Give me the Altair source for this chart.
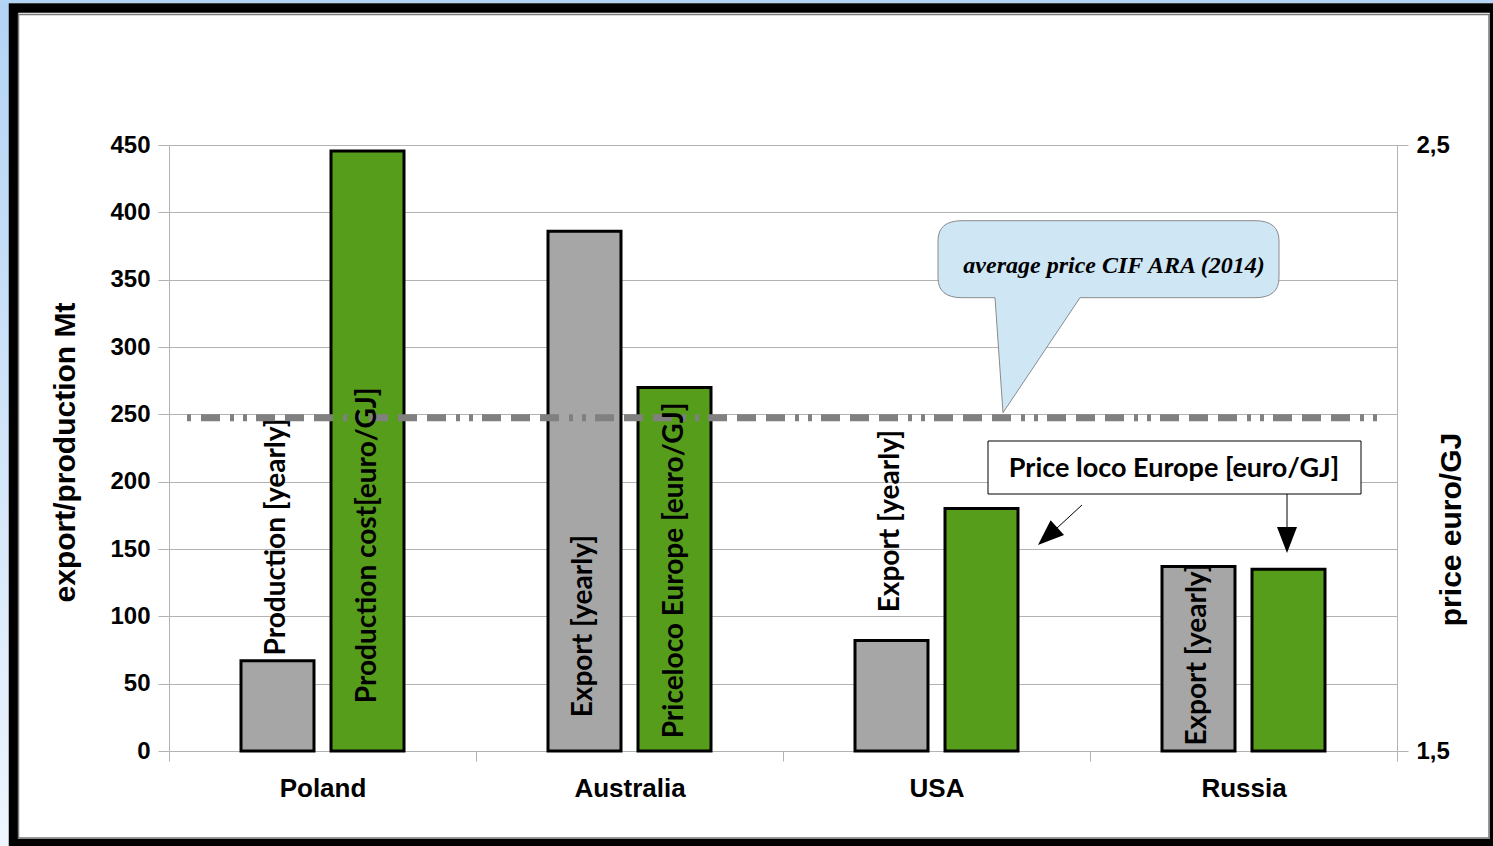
import altair as alt
import pandas as pd

# ---------------- data ----------------
countries = ["Poland", "Australia", "USA", "Russia"]
volume_mt = [67, 386, 82, 137]                 # export / production [Mt]
price_eur_gj = [2.49, 2.10, 1.90, 1.80]        # production cost / price loco Europe [euro/GJ]
volume_labels = ["Production [yearly]", "Export [yearly]", "Export [yearly]", "Export [yearly]"]
price_labels = ["Production cost[euro/GJ]", "Priceloco Europe [euro/GJ]", "", ""]
volume_label_at = [71, 25, 103, 4]             # where each rotated label starts (Mt)
price_label_at = [1.579, 1.521, 1.5, 1.5]      # where each rotated label starts (euro/GJ)
avg_price_cif_ara = 2.05
price_axis_min = 1.5
left_ticks = [0, 50, 100, 150, 200, 250, 300, 350, 400, 450]
right_ticks = [1.5, 2.5]
series_order = ["volume", "price"]

vol_df = pd.DataFrame({"country": countries, "series": "volume", "value": volume_mt,
                       "label": volume_labels, "label_at": volume_label_at})
price_df = pd.DataFrame({"country": countries, "series": "price", "value": price_eur_gj,
                         "base": price_axis_min, "label": price_labels,
                         "label_at": price_label_at})
price_lab_df = price_df[price_df["label"] != ""]
avg_df = pd.DataFrame({"p": [avg_price_cif_ara]})
one = pd.DataFrame({"k": [0]})

W, H = 1228, 606
GRID = "#b3b3b3"
AXFONT = "Liberation Sans"
LBLFONT = "Lato"

# ---------------- shared encodings ----------------
x_axis = alt.Axis(title=None, labelAngle=0, tickBand="extent", tickSize=10, tickColor=GRID,
                  domainColor=GRID, labelFont=AXFONT, labelFontWeight="bold", labelFontSize=26,
                  labelColor="black", labelPadding=14, grid=False)
X = alt.X("country:N", sort=countries, axis=x_axis,
          scale=alt.Scale(domain=countries, paddingInner=0, paddingOuter=0))
XO = alt.XOffset("series:N", sort=series_order,
                 scale=alt.Scale(domain=series_order, paddingInner=0.189, paddingOuter=0.8))

left_axis = alt.Axis(orient="left", values=left_ticks, title="export/production Mt", grid=True,
                     gridColor=GRID, gridWidth=1, tickSize=11, tickColor=GRID, domainColor=GRID,
                     labelFont=AXFONT, labelFontWeight="bold", labelFontSize=24, labelColor="black",
                     labelPadding=8, titleFont=AXFONT, titleFontWeight="bold", titleFontSize=30,
                     titleColor="black", titleAngle=270, titleX=-104, titleY=307,
                     titleAlign="center", titleBaseline="middle")
left_scale = alt.Scale(domain=[0, 450], nice=False, zero=True)

right_axis = alt.Axis(orient="right", values=right_ticks,
                      labelExpr="replace(format(datum.value, '.1f'), '.', ',')",
                      title="price euro/GJ", grid=False, tickSize=11, tickColor=GRID,
                      domainColor=GRID, labelFont=AXFONT, labelFontWeight="bold", labelFontSize=24,
                      labelColor="black", labelPadding=8, titleFont=AXFONT,
                      titleFontWeight="bold", titleFontSize=30, titleColor="black",
                      titleAngle=270, titleX=54, titleY=384, titleAlign="center",
                      titleBaseline="middle")
right_scale = alt.Scale(domain=[1.5, 2.5], nice=False, zero=False)

# ---------------- frame / background decoration ----------------
bg_grad = alt.LinearGradient(gradient="linear",
                             stops=[alt.GradientStop(offset=0, color="#b3d3f5"),
                                    alt.GradientStop(offset=1, color="#eef5fd")],
                             x1=0, x2=0, y1=0, y2=1)
left_strip = alt.Chart(one).mark_rect(fill=bg_grad).encode(
    x=alt.value(-169), x2=alt.value(-160), y=alt.value(-145), y2=alt.value(701))
top_strip = alt.Chart(one).mark_rect(color="#b5d5f6").encode(
    x=alt.value(-169), x2=alt.value(1324), y=alt.value(-145), y2=alt.value(-142))
frame = alt.Chart(one).mark_rect(fillOpacity=0, stroke="black", strokeWidth=9.5).encode(
    x=alt.value(-155.5), x2=alt.value(1325.5), y=alt.value(-137), y2=alt.value(698.5))
inner_line = alt.Chart(one).mark_rect(fillOpacity=0, stroke="#7a7a7a", strokeWidth=1.5).encode(
    x=alt.value(-150.5), x2=alt.value(1320), y=alt.value(-130.5), y2=alt.value(693))
decor = alt.layer(left_strip, top_strip, frame, inner_line)

# ---------------- left (volume) group ----------------
vol_bars = alt.Chart(vol_df).mark_bar(color="#a6a6a6", stroke="black", strokeWidth=3).encode(
    x=X, xOffset=XO, y=alt.Y("value:Q", scale=left_scale, axis=left_axis))
vol_text = alt.Chart(vol_df).mark_text(angle=270, align="left", baseline="middle",
                                       font=LBLFONT, fontWeight="bold", fontSize=28,
                                       color="black").encode(
    x=X, xOffset=XO, y=alt.Y("label_at:Q", scale=left_scale, axis=left_axis), text="label:N")
left_group = alt.layer(vol_bars, vol_text)

# ---------------- right (price) group ----------------
price_bars = alt.Chart(price_df).mark_bar(color="#579d1c", stroke="black", strokeWidth=3).encode(
    x=X, xOffset=XO, y=alt.Y("value:Q", scale=right_scale, axis=right_axis),
    y2=alt.Y2("base:Q"))
avg_line = alt.Chart(avg_df).mark_rule(color="#808080", strokeWidth=7,
                                       strokeDash=[19, 10, 19, 10, 19, 10, 4, 9, 4, 9],
                                       strokeDashOffset=44).encode(
    y=alt.Y("p:Q", scale=right_scale, axis=right_axis), x=alt.value(18), x2=alt.value(1209))
price_text = alt.Chart(price_lab_df).mark_text(angle=270, align="left", baseline="middle",
                                               font=LBLFONT, fontWeight="bold", fontSize=28,
                                               color="black").encode(
    x=X, xOffset=XO, y=alt.Y("label_at:Q", scale=right_scale, axis=right_axis), text="label:N")
callout_path = ("M -8 -120 L 0 -5 L 77 -120 L 252 -120 Q 276 -120 276 -140 L 276 -177 "
                "Q 276 -197 252 -197 L -41 -197 Q -65 -197 -65 -177 L -65 -140 "
                "Q -65 -120 -41 -120 Z")
callout = alt.Chart(avg_df).mark_point(shape=callout_path, size=4, filled=True, fill="#cfe6f5",
                                       stroke="#8a8a8a", strokeWidth=1, opacity=1).encode(
    x=alt.value(834), y=alt.Y("p:Q", scale=right_scale, axis=right_axis))
right_group = alt.layer(price_bars, avg_line, price_text, callout)

# ---------------- annotations ----------------
callout_text = alt.Chart(one).mark_text(text="average price CIF ARA (2014)", font="Liberation Serif",
                                        fontStyle="italic", fontWeight="bold", fontSize=24,
                                        color="black", align="center", baseline="middle").encode(
    x=alt.value(945), y=alt.value(121))
box = alt.Chart(one).mark_rect(fill="white", stroke="black", strokeWidth=1).encode(
    x=alt.value(819), x2=alt.value(1192), y=alt.value(296), y2=alt.value(349))
box_text = alt.Chart(one).mark_text(text="Price loco Europe [euro/GJ]", font=LBLFONT,
                                    fontWeight="bold", fontSize=27, color="black",
                                    align="center", baseline="middle").encode(
    x=alt.value(1005), y=alt.value(324))
arrow1 = alt.Chart(one).mark_rule(color="black", strokeWidth=1).encode(
    x=alt.value(913), x2=alt.value(888), y=alt.value(360), y2=alt.value(383))
arrow2 = alt.Chart(one).mark_rule(color="black", strokeWidth=1).encode(
    x=alt.value(1118), x2=alt.value(1118), y=alt.value(349), y2=alt.value(383))
head_path = "M 0 0 L -10 -26 L 10 -26 Z"
head1 = alt.Chart(one).mark_point(shape=head_path, size=4, filled=True, color="black",
                                  opacity=1, angle=48).encode(x=alt.value(869), y=alt.value(400))
head2 = alt.Chart(one).mark_point(shape=head_path, size=4, filled=True, color="black",
                                  opacity=1).encode(x=alt.value(1118), y=alt.value(408))
annotations = alt.layer(callout_text, box, box_text, arrow1, arrow2, head1, head2)

chart = alt.layer(decor, left_group, right_group, annotations).resolve_scale(
    y="independent"
).properties(
    width=W, height=H,
    autosize=alt.AutoSizeParams(type="none"),
    padding={"left": 169, "top": 145, "right": 96, "bottom": 95},
).configure(background="white").configure_view(strokeWidth=0)

chart.save("out.html", embed_options={"renderer": "svg", "actions": False})
